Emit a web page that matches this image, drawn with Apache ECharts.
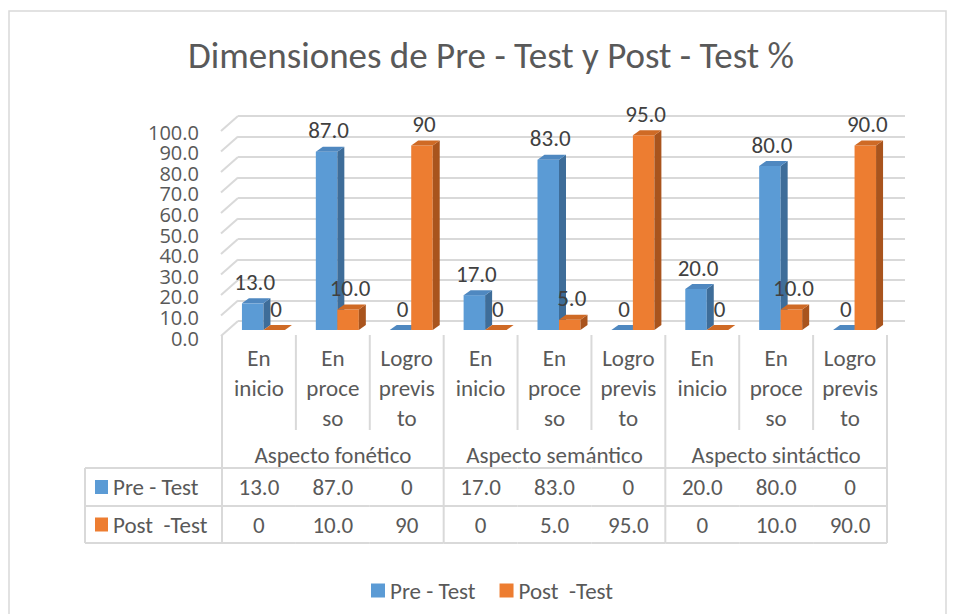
<!DOCTYPE html>
<html>
<head>
<meta charset="utf-8">
<title>Dimensiones de Pre - Test y Post - Test %</title>
<script src="https://cdn.jsdelivr.net/npm/echarts@6/dist/echarts.min.js"></script>
<style>
  html, body { margin: 0; padding: 0; background: #fff; }
  #chart { width: 957px; height: 614px; }
</style>
</head>
<body>
<div id="chart"></div>
<script>
// datos del grafico
const grupos = ['Aspecto fonético', 'Aspecto semántico', 'Aspecto sintáctico'];
const niveles = ['En\ninicio', 'En\nproce\nso', 'Logro\nprevis\nto'];
const preTest = [13, 87, 0, 17, 83, 0, 20, 80, 0];
const postTest = [0, 10, 90, 0, 5, 95, 0, 10, 90];
// etiquetas tal como aparecen en el original
const preTexto = ['13.0', '87.0', '0', '17.0', '83.0', '0', '20.0', '80.0', '0'];
const postTexto = ['0', '10.0', '90', '0', '5.0', '95.0', '0', '10.0', '90.0'];
const nombres = ['Pre - Test', 'Post  -Test'];
const yTicks = [0, 10, 20, 30, 40, 50, 60, 70, 80, 90, 100];

const categorias = [];
grupos.forEach(g => niveles.forEach(n => categorias.push(g + ' | ' + n)));

const fuente = 'Calibri, Lato, "Open Sans", sans-serif';
const gris = '#595959';
const linea = '#d9d9d9';
const tam = 23;
const azul = { frente: '#5B9BD5', lado: '#3E6D99', tapa: '#4F88C0' };
const naranja = { frente: '#ED7D31', lado: '#A9541D', tapa: '#CF6A25' };

const chart = echarts.init(document.getElementById('chart'), null, { renderer: 'svg' });

// profundidad de las barras 3D
const dx = 7, dy = 5, anchoBarra = 21.5;

function barra3d(lado, textos, c) {
  return function (params, api) {
    const i = api.value(0);
    const tope = api.coord([i, api.value(1)]);
    const base = api.coord([i, 0]);
    const x = lado === 0 ? tope[0] - anchoBarra : tope[0];
    const w = anchoBarra, yT = tope[1], yB = base[1];
    const hijos = [];
    if (yB - yT > 0.5) {
      hijos.push({ type: 'rect', shape: { x: x, y: yT, width: w, height: yB - yT }, style: { fill: c.frente } });
      hijos.push({ type: 'polygon', shape: { points: [[x + w, yT], [x + w + dx, yT - dy], [x + w + dx, yB - dy], [x + w, yB]] }, style: { fill: c.lado } });
    }
    hijos.push({ type: 'polygon', shape: { points: [[x, yT], [x + dx, yT - dy], [x + w + dx, yT - dy], [x + w, yT]] }, style: { fill: c.tapa } });
    hijos.push({
      type: 'text', x: x + w / 2 + 2, y: yT - dy - 5,
      style: { text: textos[params.dataIndex], fill: '#404040', fontSize: tam, fontFamily: fuente, align: 'center', verticalAlign: 'bottom' }
    });
    return { type: 'group', children: hijos };
  };
}

function diagonales(params, api) {
  const p = api.coord([0, api.value(1)]);
  const cs = params.coordSys;
  return { type: 'line', shape: { x1: cs.x, y1: p[1], x2: cs.x - 17, y2: p[1] + 15 }, style: { stroke: linea, lineWidth: 2 } };
}

// etiquetas del eje Y en el plano frontal
function etiquetasY(params, api) {
  const v = api.value(1);
  const p = api.coord([0, v]);
  const cs = params.coordSys;
  return { type: 'text', x: cs.x - 23, y: p[1] + 1,
    style: { text: v.toFixed(1), fill: gris, fontSize: 20, lineHeight: 20, fontFamily: '"Open Sans", sans-serif', align: 'right', verticalAlign: 'middle' } };
}

function tabla(params, api) {
  const i = params.dataIndex;
  const cx = api.coord([i, 0])[0];
  const bw = api.size([1, 0])[0];
  const x0 = cx - bw / 2, x1 = cx + bw / 2;
  const cs = params.coordSys;
  const piso = cs.y + cs.height;
  const yFinCat = piso + 93, f1 = piso + 131, f2 = piso + 169, f3 = piso + 206;
  const ln = (a, b, c2, d) => ({ type: 'line', shape: { x1: a, y1: b, x2: c2, y2: d }, style: { stroke: linea, lineWidth: 2 } });
  const tx = (t, x, y, al) => ({ type: 'text', x: x, y: y, style: { text: t, fill: gris, fontSize: tam, fontFamily: fuente, align: al || 'center', verticalAlign: 'middle' } });
  const h = [];
  h.push({ type: 'text', x: cx, y: piso + 6, style: { text: niveles[i % 3], fill: gris, fontSize: tam, lineHeight: 30, fontFamily: fuente, align: 'center', verticalAlign: 'top' } });
  h.push(ln(x0, piso - 2, x0, i % 3 === 0 ? f3 : yFinCat));
  if (i === categorias.length - 1) h.push(ln(x1, piso - 2, x1, f3));
  if (i % 3 === 1) h.push(tx(grupos[(i - 1) / 3], cx, piso + 118));
  h.push(ln(x0, f1, x1, f1), ln(x0, f2, x1, f2), ln(x0, f3, x1, f3));
  h.push(tx(preTexto[i], cx, (f1 + f2) / 2), tx(postTexto[i], cx, (f2 + f3) / 2));
  if (i === 0) {
    const xi = 85;
    h.push(ln(xi, f1, x0, f1), ln(xi, f2, x0, f2), ln(xi, f3, x0, f3), ln(xi, f1, xi, f3));
    h.push({ type: 'rect', shape: { x: 95, y: (f1 + f2) / 2 - 7, width: 13, height: 14 }, style: { fill: azul.frente } });
    h.push({ type: 'rect', shape: { x: 95, y: (f2 + f3) / 2 - 7, width: 13, height: 14 }, style: { fill: naranja.frente } });
    h.push(tx(nombres[0], 113, (f1 + f2) / 2, 'left'), tx(nombres[1], 113, (f2 + f3) / 2, 'left'));
  }
  return { type: 'group', children: h };
}

const option = {
  backgroundColor: '#fff',
  animation: false,
  title: {
    text: 'Dimensiones de Pre - Test y Post - Test %',
    left: 486, top: 32, textAlign: 'center',
    textStyle: { fontSize: 37, fontWeight: 'normal', color: gris, fontFamily: fuente }
  },
  legend: {
    data: nombres, left: 366, top: 574, icon: 'rect', itemWidth: 14, itemHeight: 14, itemGap: 24,
    textStyle: { fontSize: tam, color: gris, fontFamily: fuente }
  },
  graphic: [{
    type: 'rect', z: -10, shape: { x: 9, y: 11, width: 937, height: 620 },
    style: { fill: 'none', stroke: linea, lineWidth: 1.5 }
  }],
  grid: [
    { left: 238, top: 116, width: 667, height: 205 },   // pared del fondo
    { left: 222, top: 131, width: 665, height: 206 },   // plano frontal y tabla
    { left: 226.5, top: 125, width: 665, height: 205 }  // barras
  ],
  xAxis: [0, 1, 2].map(g => ({ type: 'category', gridIndex: g, data: categorias, show: false })),
  yAxis: [
    { type: 'value', gridIndex: 0, min: 0, max: 100, interval: 10, axisLine: { show: false }, axisTick: { show: false }, axisLabel: { show: false },
      splitLine: { show: true, lineStyle: { color: linea, width: 2 } } },
    { type: 'value', gridIndex: 1, min: 0, max: 100, interval: 10, show: false, splitLine: { show: false } },
    { type: 'value', gridIndex: 2, min: 0, max: 100, show: false, splitLine: { show: false } }
  ],
  series: [
    { type: 'custom', name: 'diag', xAxisIndex: 0, yAxisIndex: 0, data: yTicks.map(v => [0, v]), renderItem: diagonales, silent: true },
    { type: 'custom', name: 'ejeY', xAxisIndex: 1, yAxisIndex: 1, data: yTicks.map(v => [0, v]), renderItem: etiquetasY, silent: true },
    { type: 'custom', name: 'tabla', xAxisIndex: 1, yAxisIndex: 1, data: categorias.map((c, i) => [i, 0]), renderItem: tabla, silent: true },
    { type: 'custom', name: nombres[0], xAxisIndex: 2, yAxisIndex: 2, itemStyle: { color: azul.frente },
      data: preTest.map((v, i) => [i, v]), renderItem: barra3d(0, preTexto, azul) },
    { type: 'custom', name: nombres[1], xAxisIndex: 2, yAxisIndex: 2, itemStyle: { color: naranja.frente },
      data: postTest.map((v, i) => [i, v]), renderItem: barra3d(1, postTexto, naranja) }
  ]
};

chart.setOption(option);
</script>
</body>
</html>
